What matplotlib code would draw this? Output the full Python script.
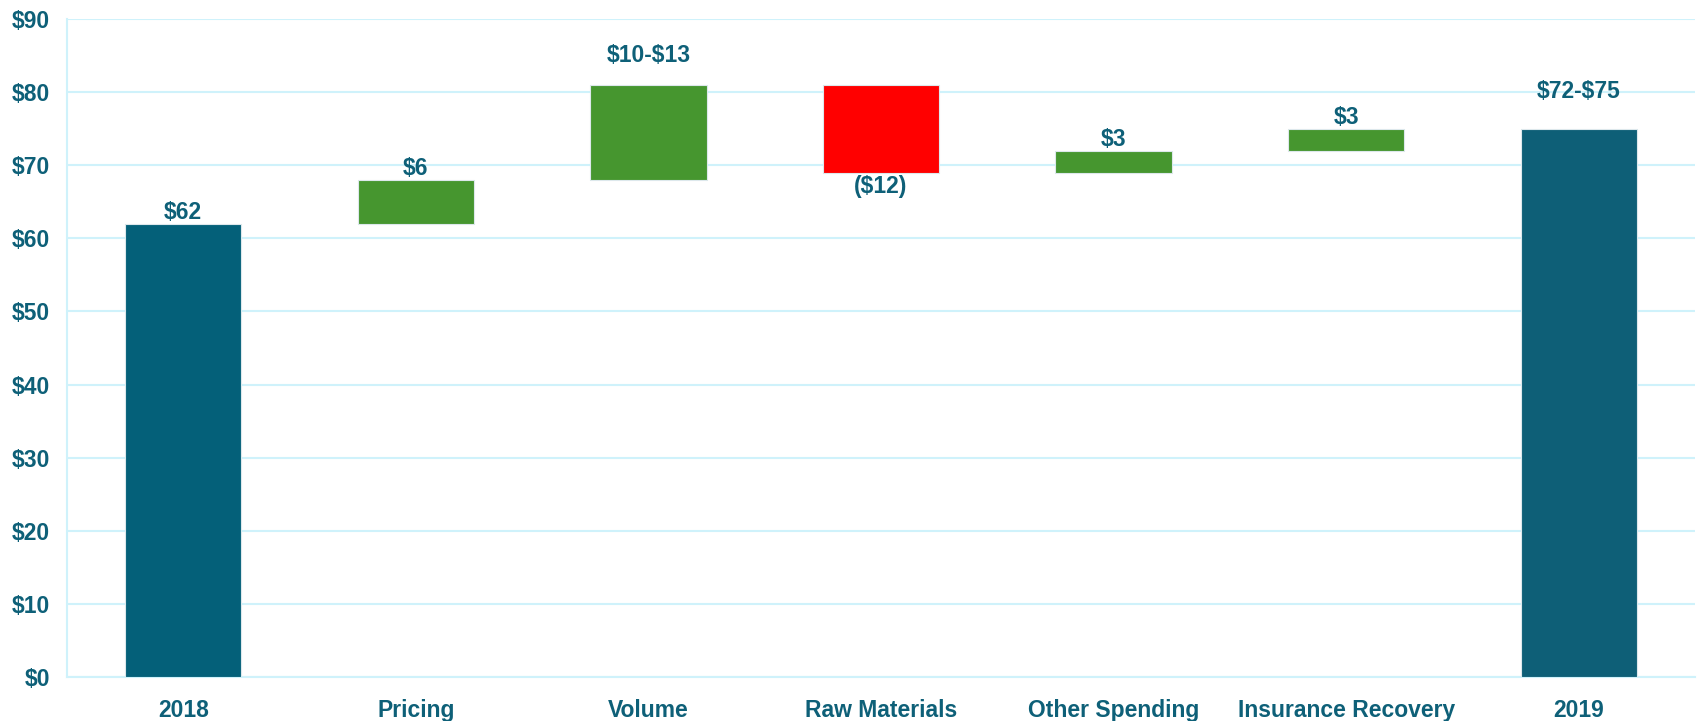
import matplotlib
matplotlib.use("Agg")
import matplotlib.pyplot as plt

categories = ["2018", "Pricing", "Volume", "Raw Materials", "Other Spending", "Insurance Recovery", "2019"]
bar_bottoms = [0, 62, 68, 69, 69, 72, 0]
bar_tops = [62, 68, 81, 81, 72, 75, 75]
bar_labels = ["$62", "$6", "$10-$13", "($12)", "$3", "$3", "$72-$75"]
label_y = [62, 68, 83.5, 69, 72, 75, 78.5]
label_above = [True, True, True, False, True, True, True]
bar_colors = ["#046079", "#46962F", "#46962F", "#FF0000", "#46962F", "#46962F", "#0E5F77"]
yticks = [0, 10, 20, 30, 40, 50, 60, 70, 80, 90]

text_color = "#0E6078"
grid_color = "#CFF2FB"

plt.rcParams['font.family'] = ['Liberation Sans', 'DejaVu Sans']
plt.rcParams['text.parse_math'] = False

fig = plt.figure(figsize=(17, 7.21), dpi=100)
ax = fig.add_axes([67/1700, 1 - 677/721, (1695-67)/1700, (677-19)/721])

x = list(range(len(categories)))
heights = [t - b for t, b in zip(bar_tops, bar_bottoms)]
ax.bar(x, heights, bottom=bar_bottoms, width=0.5, color=bar_colors,
       edgecolor="#DDE8EC", linewidth=0.8, zorder=3)

for xi, yv, lab, above in zip(x, label_y, bar_labels, label_above):
    if above:
        ax.annotate(lab, (xi, yv), xytext=(0, 0), textcoords="offset points",
                    ha="center", va="bottom", fontsize=16.5, fontweight="bold",
                    color=text_color, zorder=4)
    else:
        ax.annotate(lab, (xi, yv), xytext=(0, -2), textcoords="offset points",
                    ha="center", va="top", fontsize=16.5, fontweight="bold",
                    color=text_color, zorder=4)

ax.set_xlim(-0.5, 6.5)
ax.set_ylim(0, 90)
ax.set_yticks(yticks)
ax.set_yticklabels([f"${v}" for v in yticks])
ax.set_xticks(x)
ax.set_xticklabels(categories)
ax.tick_params(axis="both", length=0, labelsize=16.5, labelcolor=text_color)
ax.tick_params(axis="x", pad=16)
ax.tick_params(axis="y", pad=12)
for lab in ax.get_xticklabels() + ax.get_yticklabels():
    lab.set_fontweight("bold")

ax.yaxis.grid(True, color=grid_color, linewidth=1.5, zorder=0)
ax.set_axisbelow(True)
for s in ["top", "right"]:
    ax.spines[s].set_visible(False)
ax.spines["left"].set_color(grid_color)
ax.spines["left"].set_linewidth(1.5)
ax.spines["bottom"].set_color(grid_color)
ax.spines["bottom"].set_linewidth(1.5)

fig.savefig("out.png", dpi=100, facecolor="white")
